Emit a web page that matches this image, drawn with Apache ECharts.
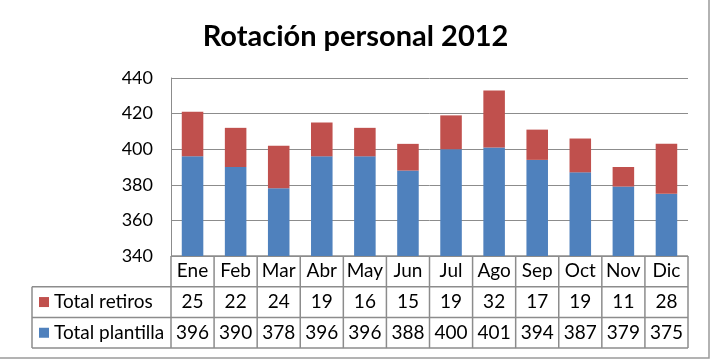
<!DOCTYPE html>
<html>
<head>
<meta charset="utf-8">
<script src="https://cdn.jsdelivr.net/npm/echarts@6/dist/echarts.min.js"></script>
<style>
  html, body { margin: 0; padding: 0; background: #fff; }
  #main { width: 711px; height: 362px; }
</style>
</head>
<body>
<div id="main"></div>
<script>
// datos de la tabla
var meses = ['Ene', 'Feb', 'Mar', 'Abr', 'May', 'Jun', 'Jul', 'Ago', 'Sep', 'Oct', 'Nov', 'Dic'];
var plantilla = [396, 390, 378, 396, 396, 388, 400, 401, 394, 387, 379, 375];
var retiros = [25, 22, 24, 19, 16, 15, 19, 32, 17, 19, 11, 28];
var yTicks = [340, 360, 380, 400, 420, 440];

var FONT = 'Lato, "Open Sans", sans-serif';
var LINE = '#8c8c8c';
var AZUL = '#4f81bd';
var ROJO = '#c0504d';

var chart = echarts.init(document.getElementById('main'));

chart.setOption({
    animation: false,
    title: {
        text: 'Rotación personal 2012',
        left: 'center',
        top: 17,
        textStyle: { fontFamily: FONT, fontSize: 29, fontWeight: 'bold', color: '#000' }
    },
    grid: { left: 171, right: 23, top: 78, bottom: 106 },
    xAxis: {
        type: 'category',
        data: meses,
        axisLine: { show: false },
        axisTick: { show: false },
        axisLabel: { show: false }
    },
    yAxis: {
        type: 'value',
        min: yTicks[0],
        max: yTicks[yTicks.length - 1],
        interval: 20,
        axisLine: { show: true, lineStyle: { color: LINE } },
        axisTick: { show: false },
        axisLabel: { fontFamily: FONT, fontSize: 18, color: '#000', margin: 18 },
        splitLine: { lineStyle: { color: LINE } }
    },
    series: [
        {
            name: 'Total plantilla',
            type: 'bar',
            stack: 'total',
            barWidth: '50%',
            itemStyle: { color: AZUL },
            data: plantilla
        },
        {
            name: 'Total retiros',
            type: 'bar',
            stack: 'total',
            itemStyle: { color: ROJO },
            data: retiros
        }
    ]
});

// tabla de datos debajo del gráfico
function buildTable() {
    var y0 = chart.convertToPixel({ yAxisIndex: 0 }, yTicks[0]);
    var c0 = chart.convertToPixel({ xAxisIndex: 0 }, meses[0]);
    var c1 = chart.convertToPixel({ xAxisIndex: 0 }, meses[1]);
    var w = c1 - c0;
    var xl = c0 - w / 2;
    var xr = xl + w * meses.length;
    var rowH = 30.7;
    var xLeft = 32;
    var els = [];
    var lw = { stroke: LINE, lineWidth: 1.5 };

    // lineas horizontales
    els.push({ type: 'line', shape: { x1: xl, y1: y0, x2: xr, y2: y0 }, style: lw });
    for (var r = 1; r <= 3; r++) {
        els.push({ type: 'line', shape: { x1: xLeft, y1: y0 + rowH * r, x2: xr, y2: y0 + rowH * r }, style: lw });
    }
    // lineas verticales
    els.push({ type: 'line', shape: { x1: xLeft, y1: y0 + rowH, x2: xLeft, y2: y0 + rowH * 3 }, style: lw });
    for (var i = 0; i <= meses.length; i++) {
        var x = xl + w * i;
        els.push({ type: 'line', shape: { x1: x, y1: y0, x2: x, y2: y0 + rowH * 3 }, style: lw });
    }

    var filas = [meses, retiros, plantilla];
    filas.forEach(function (fila, r) {
        fila.forEach(function (v, i) {
            els.push({
                type: 'text',
                x: xl + w * (i + 0.5),
                y: y0 + rowH * (r + 0.5),
                style: { text: String(v), fontFamily: FONT, fontSize: 19, fill: '#000', align: 'center', verticalAlign: 'middle' }
            });
        });
    });

    // leyendas de las filas
    var leyendas = [['Total retiros', ROJO], ['Total plantilla', AZUL]];
    leyendas.forEach(function (l, k) {
        var yc = y0 + rowH * (k + 1.5);
        els.push({ type: 'rect', shape: { x: 39, y: yc - 5, width: 10, height: 10 }, style: { fill: l[1] } });
        els.push({
            type: 'text', x: 54, y: yc,
            style: { text: l[0], fontFamily: FONT, fontSize: 19, fill: '#000', align: 'left', verticalAlign: 'middle' }
        });
    });

    // borde exterior
    els.push({ type: 'rect', shape: { x: -2, y: -2, width: 711, height: 360 }, style: { fill: null, stroke: '#9a9a9a', lineWidth: 1.5 } });

    chart.setOption({ graphic: els });
}

buildTable();
</script>
</body>
</html>
